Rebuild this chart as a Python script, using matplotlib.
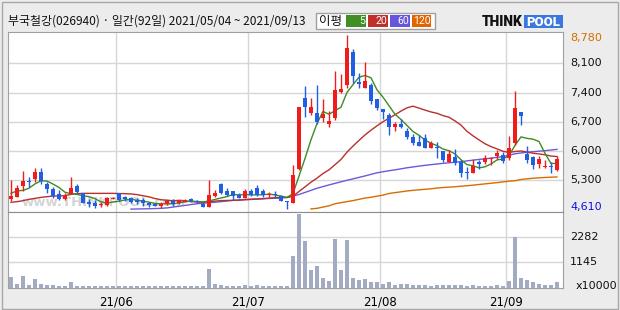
import matplotlib
matplotlib.use("Agg")
import matplotlib.pyplot as plt
import numpy as np
from matplotlib.patches import Rectangle

# ---------------- data ----------------
title = "부국철강(026940) · 일간(92일) 2021/05/04 ~ 2021/09/13"
month_ticks = [18, 40, 62, 83]            # index of first trading day of month
month_labels = ["21/06", "21/07", "21/08", "21/09"]
price_grid = [8100, 7400, 6700, 6000, 5300]
price_max = 8780
price_min = 4610
vol_grid = [1145, 2282]
ma_labels = ["5", "20", "60", "120"]

opens = [4845, 4910, 5165, 5290, 5340, 5500, 5210, 5090, 4970, 4845,
         4980, 5165, 5005, 4790, 4765, 4700, 4710, 4865, 4990, 4890,
         4870, 4830, 4830, 4750, 4735, 4695, 4725, 4815, 4750, 4790,
         4860, 4805, 4735, 4670, 4925, 5210, 5050, 5050, 4955, 4885,
         5050, 5110, 5050, 4940, 4970, 4925, 4815, 4765, 5570, 7260,
         6905, 6905, 6800, 6645, 6800, 7415, 7580, 8360, 7645, 7515,
         7580, 7245, 7005, 6865, 6585, 6645, 6480, 6330, 6225, 6305,
         6080, 6105, 6000, 5745, 5850, 5745, 5505, 5485, 5745, 5745,
         5810, 5890, 5905, 5825, 6185, 6925, 5920, 5850, 5690, 5620,
         5625, 5545]
highs = [5305, 5185, 5530, 5385, 5585, 5585, 5265, 5150, 5070, 4990,
         5370, 5210, 5005, 4855, 4830, 4790, 4890, 4890, 5005, 4930,
         4910, 4885, 4870, 4790, 4760, 4775, 4830, 4855, 4855, 4845,
         4885, 4835, 4775, 5305, 5070, 5245, 5110, 5050, 4990, 5085,
         5085, 5185, 5085, 5010, 5050, 4950, 4815, 5665, 7060, 7555,
         7280, 7580, 7245, 6960, 7915, 7835, 8780, 8440, 7875, 8140,
         7620, 7245, 7005, 6905, 6705, 6765, 6545, 6410, 6385, 6400,
         6250, 6225, 6000, 6025, 6040, 5785, 5625, 5800, 5785, 5905,
         5865, 6025, 5985, 6370, 7435, 6945, 6130, 5890, 5890, 5785,
         5745, 5890]
lows = [4815, 4895, 5050, 5150, 5270, 5205, 4990, 4870, 4830, 4830,
        4965, 4990, 4750, 4670, 4630, 4670, 4695, 4850, 4815, 4805,
        4750, 4735, 4685, 4670, 4680, 4645, 4700, 4685, 4725, 4780,
        4775, 4760, 4670, 4670, 4890, 4965, 4925, 4830, 4870, 4870,
        4925, 4925, 4910, 4910, 4910, 4815, 4610, 4765, 5555, 6825,
        6865, 6645, 6705, 6585, 6745, 7380, 7500, 7620, 7500, 7500,
        7125, 6980, 6765, 6385, 6480, 6560, 6280, 6145, 6130, 6080,
        6065, 5825, 5730, 5730, 5665, 5385, 5325, 5465, 5560, 5680,
        5665, 5810, 5705, 5785, 6145, 6625, 5705, 5570, 5600, 5585,
        5465, 5530]
closes = [4925, 5110, 5290, 5250, 5500, 5290, 5085, 4930, 4845, 4925,
          5110, 5010, 4765, 4735, 4685, 4725, 4885, 4870, 4830, 4845,
          4790, 4790, 4750, 4710, 4695, 4735, 4815, 4735, 4815, 4830,
          4815, 4780, 4670, 4940, 5005, 4990, 4950, 4925, 4885, 5050,
          4950, 4950, 4940, 4970, 4940, 4815, 4775, 5425, 7045, 7045,
          7060, 6705, 6880, 6720, 7460, 7485, 8475, 7805, 7605, 7675,
          7205, 7040, 6925, 6585, 6645, 6585, 6330, 6200, 6130, 6080,
          6185, 6065, 5785, 5920, 5705, 5485, 5485, 5640, 5680, 5825,
          5825, 5960, 5770, 6080, 7040, 6845, 5785, 5665, 5810, 5625,
          5620, 5810]
volumes = [475, 193, 551, 148, 417, 193, 148, 148, 103, 103,
           268, 75, 75, 75, 75, 75, 75, 72, 72, 72,
           72, 72, 72, 72, 72, 72, 72, 72, 72, 72,
           72, 72, 80, 865, 193, 148, 103, 103, 103, 148,
           103, 148, 103, 103, 103, 103, 103, 1418, 3329, 2088,
           789, 999, 448, 298, 2209, 789, 2164, 433, 343, 387,
           253, 253, 194, 253, 149, 194, 194, 149, 149, 149,
           103, 149, 149, 149, 149, 149, 103, 149, 103, 103,
           103, 149, 103, 298, 2268, 463, 373, 283, 194, 149,
           149, 253]
ma5 = [4990, 5045, 5060, 5110, 5215, 5288, 5283, 5211, 5130, 5015,
       4979, 4964, 4931, 4909, 4861, 4784, 4759, 4780, 4799, 4831,
       4844, 4825, 4801, 4777, 4747, 4736, 4741, 4738, 4759, 4786,
       4802, 4795, 4782, 4807, 4842, 4877, 4911, 4962, 4951, 4960,
       4952, 4952, 4955, 4972, 4950, 4923, 4888, 4985, 5401, 5822,
       6271, 6657, 6947, 6882, 6965, 7049, 7404, 7589, 7766, 7809,
       7753, 7466, 7290, 7086, 6880, 6756, 6614, 6468, 6377, 6264,
       6185, 6132, 6049, 6008, 5933, 5792, 5676, 5647, 5599, 5623,
       5692, 5787, 5813, 5893, 6135, 6339, 6304, 6284, 6229, 5947,
       5702, 5706]
ma20 = [4773, 4789, 4813, 4845, 4868, 4892, 4908, 4924, 4924, 4932,
        4964, 4980, 4988, 4988, 4988, 4988, 4988, 4988, 4984, 4981,
        4974, 4958, 4931, 4904, 4864, 4836, 4822, 4813, 4811, 4806,
        4792, 4780, 4775, 4786, 4802, 4815, 4818, 4821, 4824, 4834,
        4842, 4850, 4859, 4872, 4885, 4889, 4887, 4921, 5033, 5143,
        5256, 5352, 5462, 5551, 5674, 5799, 5975, 6119, 6255, 6386,
        6499, 6604, 6703, 6784, 6869, 6957, 7035, 7074, 7028, 6980,
        6936, 6904, 6849, 6809, 6721, 6621, 6472, 6364, 6268, 6175,
        6106, 6052, 5994, 5969, 5989, 6002, 5975, 5948, 5932, 5910,
        5881, 5869]
ma60 = [None] * 20 + [
        4612, 4614, 4617, 4620, 4624, 4630, 4640, 4660, 4680, 4700,
        4720, 4740, 4752, 4765, 4775, 4790, 4805, 4820, 4832, 4842,
        4850, 4856, 4862, 4866, 4870, 4878, 4895, 4925, 4960, 5010,
        5060, 5110, 5150, 5190, 5227, 5265, 5300, 5335, 5370, 5405,
        5443, 5480, 5505, 5530, 5550, 5575, 5600, 5620, 5640, 5658,
        5675, 5690, 5706, 5720, 5733, 5746, 5765, 5782, 5800, 5815,
        5830, 5850, 5870, 5900, 5935, 5955, 5972, 5985, 5997, 6010,
        6025, 6041]
ma120 = [None] * 50 + [
         4615, 4630, 4660, 4690, 4740, 4765, 4790, 4815, 4845, 4875,
         4895, 4920, 4945, 4985, 5005, 5025, 5045, 5060, 5072, 5085,
         5098, 5115, 5128, 5137, 5146, 5160, 5170, 5185, 5200, 5215,
         5230, 5245, 5262, 5280, 5290, 5320, 5335, 5350, 5360, 5368,
         5375, 5380]

# ---------------- styles ----------------
W, H = 620, 310
BG = "#ececec"
RED = "#f01c1c"
BLUE = "#1f5fe6"
VOLC = "#a3abc3"
GRID = "#d6d6d6"
FRAME = "#a0a0a0"
MA_COLORS = ["#3c8c22", "#b8302c", "#6a5ad8", "#d86c00"]
BOX_COLORS = ["#3f8f25", "#c0302b", "#6655dd", "#e06400"]
KR = ["Noto Sans CJK KR", "DejaVu Sans"]

def fx(px):
    return px / W

def fy(py):
    return 1 - py / H

fig = plt.figure(figsize=(W / 100, H / 100), dpi=100)
fig.patch.set_facecolor(BG)

L, R = 7.5, 563
ax = fig.add_axes([fx(L), fy(212), fx(R) - fx(L), fy(31.7) - fy(212)])
axv = fig.add_axes([fx(L), fy(288), fx(R) - fx(L), fy(212.5) - fy(288)])

n = len(closes)
idx = np.arange(n)
o = np.array(opens, float)
c = np.array(closes, float)
h = np.array(highs, float)
lo = np.array(lows, float)
up = c >= o
cols = np.where(up, RED, BLUE)

# ---- price panel ----
ax.set_facecolor("white")
ax.set_xlim(-0.58, 92.0)
ax.set_ylim(4542, 8856)
ax.set_yticks(price_grid)
ax.set_xticks(np.array(month_ticks) - 0.42)
ax.grid(True, color=GRID, lw=1.0, zorder=0)
ax.tick_params(length=0, labelleft=False, labelbottom=False)
for s in ax.spines.values():
    s.set_color(FRAME)
ax.spines["bottom"].set_color("#8c8c8c")

for vals, col in zip([ma120, ma60, ma20, ma5], MA_COLORS[::-1]):
    arr = np.array([np.nan if v is None else v for v in vals], float)
    ax.plot(idx, arr, color=col, lw=1.0, zorder=2)

ax.vlines(idx, lo, h, colors=cols, lw=1.0, zorder=3)
body_bot = np.minimum(o, c)
body_h = np.maximum(np.abs(c - o), 22)
ax.bar(idx, body_h, bottom=body_bot, width=0.68, color=cols, lw=0, zorder=4)

# watermark (single text)
ax.text(fx(22), fy(202), "www.THINKPOOL.com", transform=fig.transFigure,
        fontsize=9.5, fontweight="bold", color="#c6c6c6", va="center",
        ha="left", zorder=1, alpha=0.75)

# right price labels
for p in price_grid:
    ax.annotate(f"{p:,}", xy=(1, p), xycoords=("axes fraction", "data"),
                xytext=(5, 0), textcoords="offset points", va="center",
                ha="left", fontsize=8, color="#111111", annotation_clip=False)
ax.annotate(f"{price_max:,}", xy=(1, price_max), xycoords=("axes fraction", "data"),
            xytext=(5, -2.5), textcoords="offset points", va="center", ha="left",
            fontsize=8, color="#d86c00", annotation_clip=False)
ax.annotate(f"{price_min:,}", xy=(1, price_min), xycoords=("axes fraction", "data"),
            xytext=(5, 1.7), textcoords="offset points", va="center", ha="left",
            fontsize=8, color="#1010e0", annotation_clip=False)

# ---- volume panel ----
axv.set_facecolor("white")
axv.set_xlim(-0.58, 92.0)
axv.set_ylim(0, 3390)
axv.set_yticks(vol_grid)
axv.set_xticks(np.array(month_ticks) - 0.42)
axv.set_xticklabels(month_labels, fontsize=8.5)
axv.grid(True, color=GRID, lw=1.0, zorder=0)
axv.tick_params(length=0, labelleft=False, pad=5.2)
for s in axv.spines.values():
    s.set_color(FRAME)
axv.spines["top"].set_color("#8c8c8c")
axv.bar(idx, volumes, width=0.68, color=VOLC, lw=0, zorder=3)
for v in vol_grid:
    axv.annotate(f"{v}", xy=(1, v), xycoords=("axes fraction", "data"),
                 xytext=(5, 0), textcoords="offset points", va="center",
                 ha="left", fontsize=8, color="#111111", annotation_clip=False)
fig.text(fx(575.5), fy(286), "x10000", fontsize=8, va="center", ha="left",
         color="#111111")

# ---- header ----
fig.text(fx(8.5), fy(21), title, fontsize=8.6, family=KR, va="center",
         ha="left", color="#111111")
fig.patches.append(Rectangle((fx(315.5), fy(29.3)), fx(434.8) - fx(315.5),
                             fy(12.7) - fy(29.3), transform=fig.transFigure,
                             facecolor="white", edgecolor=FRAME, lw=1))
fig.text(fx(330.5), fy(21), "이평", fontsize=9, family=KR, va="center",
         ha="center", color="#111111")
box_x = [346, 368, 390, 411.5]
for bx, lab, bc in zip(box_x, ma_labels, BOX_COLORS):
    fig.patches.append(Rectangle((fx(bx), fy(27.3)), fx(19.7), fy(15.3) - fy(27.3),
                                 transform=fig.transFigure, facecolor=bc,
                                 edgecolor="none"))
    fig.text(fx(bx + 19.2), fy(21.3), lab, fontsize=7.6,
             family=["Roboto", "DejaVu Sans"], va="center", ha="right",
             color="white")

# logo
fig.text(fx(482), fy(22), "THINK", fontsize=9.8, fontweight="heavy",
         family=["Roboto", "DejaVu Sans"], va="center", ha="left", color="#111111")
fig.patches.append(Rectangle((fx(524), fy(28.3)), fx(39), fy(15.3) - fy(28.3),
                             transform=fig.transFigure, facecolor="#3a78e0",
                             edgecolor="none"))
fig.text(fx(543.5), fy(22), "POOL", fontsize=9.4, fontweight="heavy",
         family=["Roboto", "DejaVu Sans"], va="center", ha="center", color="white")

# outer frame
fig.patches.append(Rectangle((fx(1.5), fy(308.5)), fx(616), fy(1.5) - fy(308.5),
                             transform=fig.transFigure, facecolor="none",
                             edgecolor="#a8a8a8", lw=1))

fig.savefig("out.png", dpi=100, facecolor=BG)
